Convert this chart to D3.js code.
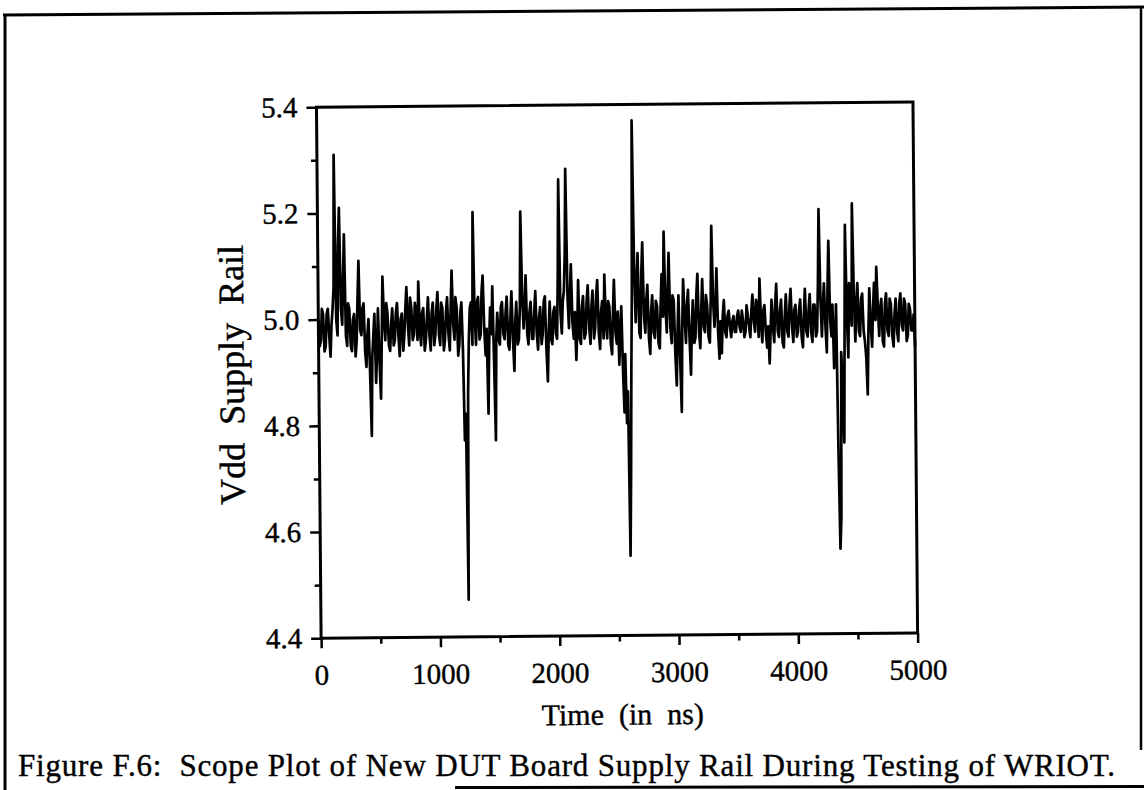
<!DOCTYPE html>
<html>
<head>
<meta charset="utf-8">
<script src="https://cdn.jsdelivr.net/npm/d3@7"></script>
<style>
  html, body { margin: 0; padding: 0; background: #fff; }
  svg { display: block; }
  text { font-family: "Liberation Serif", "Times New Roman", serif; fill: #000; }
</style>
</head>
<body>
<svg id="fig" width="1144" height="790"></svg>
<script>
// Scope capture: supply rail voltage, one sample every 10 ns from 0 to 5000 ns
const sampleStepNs = 10;
const vddVolts = [
  5.00, 4.95, 4.96, 5.02, 5.01, 4.94, 4.95, 5.01, 5.02, 4.97,
  4.93, 4.99, 5.02, 5.06, 5.31, 5.00, 4.97, 5.14, 5.21, 5.02,
  4.99, 5.08, 5.16, 4.97, 4.95, 5.03, 5.02, 4.95, 4.94, 5.00,
  5.01, 4.93, 4.96, 5.04, 5.11, 4.98, 4.97, 5.02, 5.03, 4.94,
  4.91, 4.97, 5.00, 4.90, 4.78, 4.93, 4.97, 5.01, 4.88, 4.94,
  5.02, 4.92, 4.85, 4.96, 5.08, 5.00, 4.96, 5.03, 5.01, 4.95,
  4.94, 4.99, 5.02, 4.95, 4.96, 5.01, 5.03, 4.97, 4.93, 5.00,
  5.01, 4.94, 4.97, 5.02, 5.06, 4.99, 4.95, 5.04, 5.02, 4.96,
  4.97, 5.03, 5.01, 4.96, 5.07, 4.98, 4.95, 5.01, 5.02, 4.94,
  4.96, 5.00, 5.04, 4.97, 4.94, 5.01, 5.03, 4.95, 4.97, 5.02,
  5.05, 4.97, 4.95, 5.03, 5.02, 4.94, 4.96, 5.01, 5.04, 4.97,
  4.94, 5.02, 5.09, 4.99, 4.96, 5.04, 5.02, 4.93, 4.95, 5.01,
  5.03, 4.94, 4.77, 4.82, 4.47, 4.86, 4.96, 5.02, 5.03, 4.95,
  5.20, 5.01, 4.95, 5.03, 5.04, 4.96, 4.97, 5.05, 5.08, 4.98,
  4.93, 4.98, 4.82, 4.95, 5.02, 4.97, 5.06, 4.92, 4.77, 4.96,
  5.01, 4.96, 4.95, 5.02, 5.03, 4.97, 4.96, 5.01, 5.04, 4.95,
  4.94, 5.00, 5.05, 4.96, 4.90, 4.99, 5.03, 4.95, 4.96, 5.02,
  5.20, 5.04, 4.98, 5.02, 5.08, 4.97, 4.95, 5.01, 5.03, 4.96,
  4.96, 5.01, 5.05, 4.97, 4.94, 5.00, 5.02, 4.95, 4.97, 5.03,
  5.04, 4.94, 4.88, 4.97, 5.03, 4.96, 4.95, 5.01, 5.02, 4.97,
  4.96, 5.08, 5.26, 5.01, 4.97, 5.03, 5.05, 5.12, 5.28, 5.04,
  4.98, 5.04, 5.10, 4.99, 4.96, 5.01, 4.92, 4.98, 5.07, 4.96,
  4.95, 5.02, 5.04, 4.96, 4.97, 5.03, 5.06, 4.98, 4.95, 5.02,
  5.05, 4.96, 4.98, 5.04, 5.07, 4.97, 4.94, 5.01, 5.03, 4.96,
  5.08, 4.99, 4.96, 5.03, 5.02, 4.95, 4.93, 5.01, 5.07, 4.97,
  4.95, 5.01, 4.91, 4.97, 5.02, 4.90, 4.82, 4.93, 4.80, 4.86,
  4.55, 4.70, 4.90, 5.05, 5.37, 5.10, 4.99, 5.06, 5.12, 4.97,
  4.96, 5.08, 5.14, 5.00, 4.97, 5.03, 5.06, 4.96, 4.93, 5.01,
  5.04, 4.97, 4.96, 5.03, 5.02, 4.95, 4.94, 5.02, 5.08, 5.00,
  5.16, 5.02, 4.97, 5.05, 5.12, 4.98, 4.95, 5.04, 5.03, 4.93,
  4.87, 4.97, 5.04, 4.92, 4.82, 4.98, 5.07, 5.00, 4.95, 5.02,
  5.05, 4.96, 4.89, 4.98, 5.03, 4.95, 4.96, 5.04, 5.08, 4.97,
  4.94, 5.01, 5.07, 4.98, 4.97, 5.04, 5.02, 4.96, 4.95, 5.03,
  5.17, 5.03, 4.98, 5.02, 5.09, 4.97, 4.92, 4.99, 4.93, 5.00,
  5.03, 4.97, 4.96, 5.00, 5.01, 4.98, 4.96, 4.99, 5.00, 4.97,
  4.97, 5.00, 5.01, 4.98, 4.97, 5.01, 4.99, 4.96, 4.97, 5.02,
  5.00, 4.98, 4.96, 5.01, 5.04, 4.99, 4.97, 5.03, 5.02, 4.96,
  5.07, 4.99, 4.95, 5.01, 5.02, 4.97, 4.94, 4.98, 4.91, 4.97,
  5.03, 4.98, 4.95, 5.02, 5.06, 4.97, 4.96, 5.01, 5.03, 4.95,
  4.94, 5.00, 5.04, 4.97, 4.96, 5.02, 5.05, 4.98, 4.95, 5.01,
  5.02, 4.96, 4.97, 5.01, 5.03, 4.96, 4.94, 5.00, 5.05, 4.97,
  4.96, 5.01, 5.04, 4.97, 4.95, 5.02, 5.02, 4.96, 4.97, 5.06,
  5.20, 5.03, 4.96, 5.02, 5.06, 4.98, 4.93, 5.05, 5.14, 4.99,
  4.96, 5.02, 4.90, 4.95, 5.02, 4.75, 4.56, 4.62, 4.93, 4.88,
  4.76, 4.97, 5.17, 5.00, 4.92, 5.06, 5.03, 4.98, 5.21, 5.04,
  4.95, 5.02, 5.06, 4.97, 4.96, 5.03, 5.04, 4.97, 4.95, 4.92,
  4.85, 4.97, 5.05, 4.98, 4.94, 5.01, 5.06, 4.99, 5.09, 5.02,
  4.96, 5.01, 5.03, 4.95, 4.94, 5.02, 5.04, 4.97, 4.96, 5.03,
  5.02, 4.96, 4.94, 5.00, 5.03, 4.97, 4.95, 5.02, 5.04, 4.98,
  4.97, 5.03, 5.02, 4.95, 4.96, 5.02, 5.01, 4.97, 4.97, 5.00,
  4.94
];

// Axis ticks
const xMajorTicks = [0, 1000, 2000, 3000, 4000, 5000];
const xMinorTicks = [500, 1500, 2500, 3500, 4500];
const yMajorTicks = [4.4, 4.6, 4.8, 5.0, 5.2, 5.4];
const yMinorTicks = [4.5, 4.7, 4.9, 5.1, 5.3];

const xTitle = "Time  (in  ns)";
const yTitle = "Vdd  Supply  Rail";
const caption = "Figure F.6:  Scope Plot of New DUT Board Supply Rail During Testing of WRIOT.";

const samples = vddVolts.map((v, i) => ({ t: i * sampleStepNs, v }));

const svg = d3.select("#fig");

// page frame
const frame = svg.append("g").attr("stroke", "#000").attr("fill", "none");
frame.append("line").attr("x1", 3).attr("y1", 15).attr("x2", 1144).attr("y2", 7).attr("stroke-width", 3);
frame.append("line").attr("x1", 5).attr("y1", 14).attr("x2", 5).attr("y2", 790).attr("stroke-width", 3);
frame.append("line").attr("x1", 1141).attr("y1", 7).attr("x2", 1141).attr("y2", 750).attr("stroke-width", 2.5);
frame.append("line").attr("x1", 455).attr("y1", 787.5).attr("x2", 1144).attr("y2", 786.5).attr("stroke-width", 3);

// the printed page sits slightly askew
const page = svg.append("g").attr("transform", "rotate(-0.5, 572, 395)");

const plot = { left: 319, right: 915.5, top: 105, bottom: 636 };

const x = d3.scaleLinear().domain([0, 5000]).range([plot.left, plot.right]);
const y = d3.scaleLinear().domain([4.4, 5.4]).range([plot.bottom, plot.top]);

const yAxis = page.append("g")
  .attr("transform", `translate(${plot.left},0)`)
  .call(d3.axisLeft(y).tickValues(yMajorTicks).tickSize(10).tickSizeOuter(0)
        .tickPadding(9).tickFormat(d3.format(".1f")));
const yMinor = page.append("g")
  .attr("transform", `translate(${plot.left},0)`)
  .call(d3.axisLeft(y).tickValues(yMinorTicks).tickSize(6).tickSizeOuter(0).tickFormat(""));
const xAxis = page.append("g")
  .attr("transform", `translate(0,${plot.bottom})`)
  .call(d3.axisBottom(x).tickValues(xMajorTicks).tickSize(10).tickSizeOuter(0)
        .tickPadding(16).tickFormat(d3.format("d")));
const xMinor = page.append("g")
  .attr("transform", `translate(0,${plot.bottom})`)
  .call(d3.axisBottom(x).tickValues(xMinorTicks).tickSize(6).tickSizeOuter(0).tickFormat(""));

[yAxis, yMinor, xAxis, xMinor].forEach(g => {
  g.select(".domain").remove();
  g.selectAll(".tick line").attr("stroke", "#000").attr("stroke-width", 2.5);
  g.selectAll(".tick text")
    .style("font-family", '"Liberation Serif", "Times New Roman", serif')
    .style("font-size", "29px")
    .attr("fill", "#000")
    .attr("stroke", "#000")
    .attr("stroke-width", 0.4);
});
xAxis.selectAll(".tick text").attr("dy", "0.71em");

// trace
page.append("path")
  .datum(samples)
  .attr("fill", "none")
  .attr("stroke", "#000")
  .attr("stroke-width", 2.7)
  .attr("stroke-linejoin", "round")
  .attr("d", d3.line().x(d => x(d.t)).y(d => y(d.v)));

// plot box
page.append("rect")
  .attr("x", plot.left).attr("y", plot.top)
  .attr("width", plot.right - plot.left).attr("height", plot.bottom - plot.top)
  .attr("fill", "none").attr("stroke", "#000").attr("stroke-width", 3);

// axis titles
page.append("text")
  .attr("x", 620).attr("y", 725)
  .attr("text-anchor", "middle")
  .attr("stroke", "#000").attr("stroke-width", 0.4)
  .style("font-size", "30px")
  .style("white-space", "pre")
  .attr("xml:space", "preserve")
  .text(xTitle);

page.append("text")
  .attr("transform", "translate(244,372) rotate(-90)")
  .attr("text-anchor", "middle")
  .attr("stroke", "#000").attr("stroke-width", 0.4)
  .style("font-size", "36px")
  .style("white-space", "pre")
  .attr("xml:space", "preserve")
  .text(yTitle);

// caption
svg.append("text")
  .attr("x", 18).attr("y", 776)
  .attr("stroke", "#000").attr("stroke-width", 0.4)
  .style("font-size", "31px")
  .style("white-space", "pre")
  .attr("xml:space", "preserve")
  .attr("textLength", 1097)
  .attr("lengthAdjust", "spacing")
  .text(caption);
</script>
</body>
</html>
